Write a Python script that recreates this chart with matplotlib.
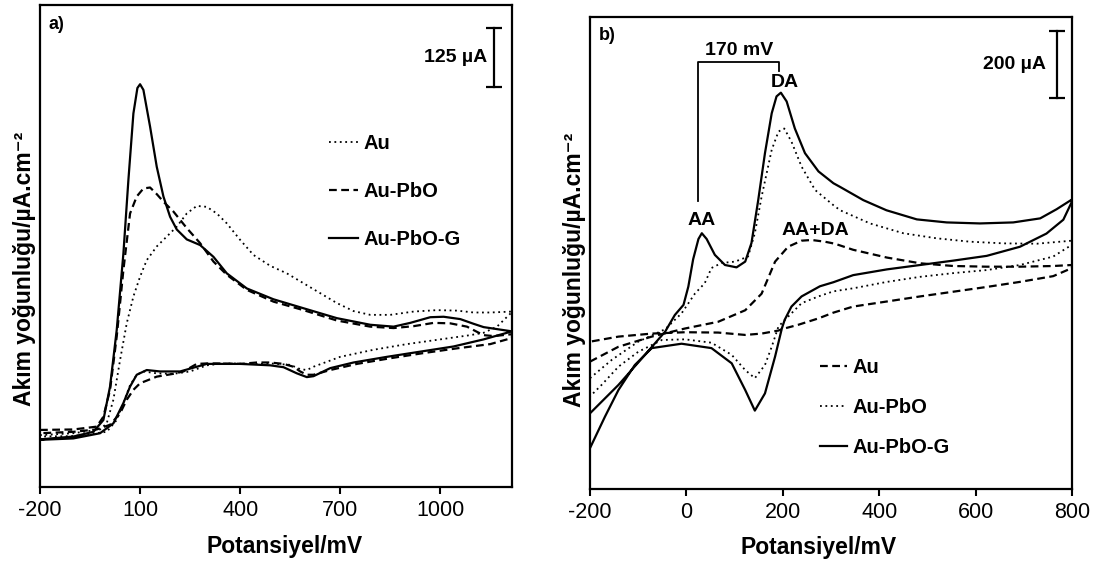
import numpy as np
import matplotlib
matplotlib.use('Agg')
import matplotlib.pyplot as plt

plt.rcParams['font.family'] = ['Liberation Sans', 'DejaVu Sans']
plt.rcParams['axes.unicode_minus'] = False

#%% data (potential in mV, current in uA)

# ---- panel a ----
a_au_fwd_E = [-200, -100, -20, 0, 20, 40, 60, 80, 100, 120, 150, 180, 210, 240, 270, 300, 330,
              360, 400, 440, 490, 540, 590, 640, 690, 740, 790, 850, 920, 990, 1050, 1100, 1150, 1215]
a_au_fwd_I = [112, 116, 124, 137, 187, 271, 349, 406, 448, 483, 512, 533, 554, 582, 598, 596, 582,
              561, 526, 494, 471, 455, 434, 413, 392, 375, 367, 367, 374, 377, 376, 372, 372, 374]
a_au_rev_E = [1215, 1170, 1130, 1090, 1000, 900, 800, 700, 620, 600, 580, 550, 490, 450, 350, 300,
              250, 200, 150, 110, 90, 70, 50, 30, 0, -100, -200]
a_au_rev_I = [373, 342, 329, 324, 315, 305, 293, 278, 257, 250, 252, 261, 264, 263, 264, 260,
              247, 242, 243, 247, 240, 218, 180, 144, 119, 110, 109]

a_pbo_fwd_E = [-200, -100, -30, -10, 10, 30, 50, 70, 90, 110, 130, 150, 170, 200, 240, 280, 320,
               360, 420, 500, 590, 690, 790, 860, 920, 980, 1030, 1080, 1110, 1130, 1160, 1215]
a_pbo_fwd_I = [123, 124, 130, 151, 208, 321, 462, 582, 618, 635, 637, 623, 607, 586, 551, 519, 480,
               452, 420, 395, 377, 355, 342, 339, 343, 350, 349, 342, 331, 324, 322, 326]
a_pbo_rev_E = [1215, 1150, 1050, 950, 850, 750, 670, 620, 600, 580, 560, 530, 490, 450, 400, 330,
               300, 270, 230, 200, 150, 100, 80, 60, 40, 10, -30, -100, -200]
a_pbo_rev_I = [318, 305, 296, 286, 275, 263, 250, 240, 240, 247, 257, 263, 266, 266, 263, 264,
               264, 263, 247, 242, 236, 222, 208, 187, 158, 134, 124, 119, 116]

a_g_fwd_E = [-200, -100, -40, -10, 10, 30, 50, 65, 80, 92, 100, 110, 130, 150, 170, 190, 210, 240,
             280, 320, 360, 420, 500, 590, 690, 790, 860, 910, 970, 1010, 1060, 1100, 1130, 1215]
a_g_fwd_I = [103, 109, 119, 144, 215, 335, 497, 653, 794, 848, 856, 844, 766, 681, 618, 575, 548, 527,
             515, 490, 455, 423, 400, 381, 360, 346, 342, 350, 362, 363, 358, 348, 341, 332]
a_g_rev_E = [1215, 1130, 1040, 940, 840, 740, 670, 620, 600, 570, 530, 490, 400, 300, 220, 160,
             120, 90, 70, 50, 20, -20, -100, -200]
a_g_rev_I = [332, 315, 300, 289, 278, 266, 254, 237, 235, 243, 256, 260, 263, 263, 247, 247,
             250, 240, 215, 180, 137, 116, 105, 102]

# ---- panel b ----
b_au_fwd_E = [-200, -141, -72, -3, 66, 122, 156, 184, 211, 239, 260, 287, 308, 346, 416, 485,
              554, 623, 692, 761, 800]
b_au_fwd_I = [377, 421, 451, 475, 495, 529, 578, 673, 717, 735, 737, 732, 726, 708, 685, 668,
              660, 658, 658, 660, 663]
b_au_rev_E = [800, 761, 692, 623, 554, 485, 416, 346, 305, 274, 232, 198, 191, 156, 122, 66,
              -3, -72, -141, -200]
b_au_rev_I = [654, 630, 613, 598, 584, 570, 555, 540, 522, 505, 486, 473, 469, 460, 456, 463,
              464, 460, 451, 436]

b_pbo_fwd_E = [-200, -155, -100, -44, -10, 18, 38, 52, 73, 101, 128, 142, 156, 177, 191, 203,
               218, 239, 267, 305, 319, 381, 450, 519, 588, 658, 727, 800]
b_pbo_fwd_I = [328, 382, 436, 473, 520, 579, 609, 654, 669, 673, 688, 757, 865, 1004, 1058, 1067,
               1028, 954, 885, 840, 825, 786, 757, 742, 732, 727, 726, 735]
b_pbo_rev_E = [800, 761, 692, 623, 554, 485, 416, 346, 305, 274, 239, 211, 191, 177, 163, 142,
               122, 94, 52, -3, -51, -100, -141, -176, -200]
b_pbo_rev_I = [723, 688, 663, 648, 639, 628, 613, 594, 585, 570, 550, 510, 481, 421, 367, 328,
               352, 397, 433, 443, 441, 406, 362, 308, 274]

b_g_fwd_E = [-200, -141, -86, -44, -24, -6, 4, 14, 25, 32, 42, 59, 80, 104, 122, 135, 149, 163,
             177, 187, 196, 208, 225, 246, 274, 305, 319, 367, 415, 478, 540, 609, 678, 734, 768, 800]
b_g_fwd_I = [224, 308, 397, 466, 515, 545, 599, 680, 740, 757, 740, 693, 663, 656, 673, 728, 855, 994,
             1112, 1162, 1173, 1147, 1067, 994, 940, 905, 894, 855, 825, 798, 789, 786, 789, 801, 828, 857]
b_g_rev_E = [800, 782, 747, 692, 623, 554, 485, 416, 346, 305, 277, 239, 218, 204, 198, 184, 163,
             142, 122, 94, 52, -10, -72, -107, -141, -169, -200]
b_g_rev_I = [851, 797, 756, 717, 690, 676, 663, 650, 633, 612, 600, 570, 540, 501, 475, 392, 283,
             232, 293, 372, 417, 430, 417, 367, 293, 214, 121]

aa_peak, da_peak = 25, 192   # mV, oxidation peaks on Au-PbO-G

#%% line styles
solid = dict(color='k', lw=1.6, ls='-')
dashed = dict(color='k', lw=1.6, ls=(0, (3.5, 2)))
dotted = dict(color='k', lw=1.3, ls=(0, (1, 2)))

fig = plt.figure(figsize=(10.95, 5.62), dpi=100)
axa = fig.add_axes([40 / 1095, 75 / 562, 472 / 1095, 482 / 562])
axb = fig.add_axes([590 / 1095, 73 / 562, 482 / 1095, 472 / 562])


def cv(ax, fE, fI, rE, rI, style):
    # forward + reverse sweep as one closed loop
    return ax.plot(list(fE) + list(rE), list(fI) + list(rI), **style)[0]


def style_axes(ax, ticks, xlim, ylim, xlab_x, ylab_y):
    ax.set_xlim(*xlim)
    ax.set_ylim(*ylim)
    ax.set_xticks(ticks)
    ax.set_yticks([])
    ax.tick_params(axis='x', direction='out', length=5, width=1.5, labelsize=15.5, pad=4.5)
    for s in ax.spines.values():
        s.set_linewidth(1.6)
    ax.text(xlab_x, -0.124, 'Potansiyel/mV', transform=ax.transAxes, ha='center', va='center',
            fontsize=16.5, fontweight='bold')
    ax.text(-0.032, ylab_y, 'Akım yoğunluğu/µA.cm⁻²', transform=ax.transAxes, rotation=90,
            ha='center', va='center', fontsize=16.5, fontweight='bold')


def scale_bar(ax, x, y0, y1, label, tx):
    ax.plot([x, x], [y0, y1], color='k', lw=1.6)
    ax.plot([x, x], [y0, y1], ls='none', marker='_', ms=11, mew=1.6, color='k')
    ax.text(tx, (y0 + y1) / 2, label, ha='right', va='center', fontsize=14, fontweight='bold')


#%% panel a
la = cv(axa, a_au_fwd_E, a_au_fwd_I, a_au_rev_E, a_au_rev_I, dotted)
lb = cv(axa, a_pbo_fwd_E, a_pbo_fwd_I, a_pbo_rev_E, a_pbo_rev_I, dashed)
lc = cv(axa, a_g_fwd_E, a_g_fwd_I, a_g_rev_E, a_g_rev_I, solid)
style_axes(axa, [-200, 100, 400, 700, 1000], (-200, 1215), (2, 1024), 0.519, 0.452)
scale_bar(axa, 1162, 850, 975, '125 µA', 1140)
axa.text(0.018, 0.96, 'a)', transform=axa.transAxes, ha='left', va='center',
         fontsize=13, fontweight='bold')
axa.legend([la, lb, lc], ['Au', 'Au-PbO', 'Au-PbO-G'], loc='upper left',
           bbox_to_anchor=(0.612, 0.733), frameon=False, borderpad=0, borderaxespad=0,
           handlelength=1.45, handletextpad=0.25, labelspacing=1.44,
           prop=dict(size=14.5, weight='bold'))

#%% panel b
ma = cv(axb, b_au_fwd_E, b_au_fwd_I, b_au_rev_E, b_au_rev_I, dashed)
mb = cv(axb, b_pbo_fwd_E, b_pbo_fwd_I, b_pbo_rev_E, b_pbo_rev_I, dotted)
mc = cv(axb, b_g_fwd_E, b_g_fwd_I, b_g_rev_E, b_g_rev_I, solid)
style_axes(axb, [-200, 0, 200, 400, 600, 800], (-200, 800), (0, 1397), 0.474, 0.464)
scale_bar(axb, 768, 1157, 1357, '200 µA', 746)
axb.text(0.018, 0.96, 'b)', transform=axb.transAxes, ha='left', va='center',
         fontsize=13, fontweight='bold')

# peak separation bracket
axb.plot([aa_peak, aa_peak, da_peak, da_peak], [852, 1265, 1265, 1238], color='k', lw=1.3)
axb.text((aa_peak + da_peak) / 2, 1297, '170 mV', ha='center', va='center',
         fontsize=14, fontweight='bold')
axb.text(205, 1203, 'DA', ha='center', va='center', fontsize=14, fontweight='bold')
axb.text(32, 794, 'AA', ha='center', va='center', fontsize=14, fontweight='bold')
axb.text(267, 764, 'AA+DA', ha='center', va='center', fontsize=14, fontweight='bold')

axb.legend([ma, mb, mc], ['Au', 'Au-PbO', 'Au-PbO-G'], loc='upper left',
           bbox_to_anchor=(0.477, 0.278), frameon=False, borderpad=0, borderaxespad=0,
           handlelength=1.34, handletextpad=0.3, labelspacing=1.05,
           prop=dict(size=14.5, weight='bold'))

fig.savefig('out.png', dpi=100)
